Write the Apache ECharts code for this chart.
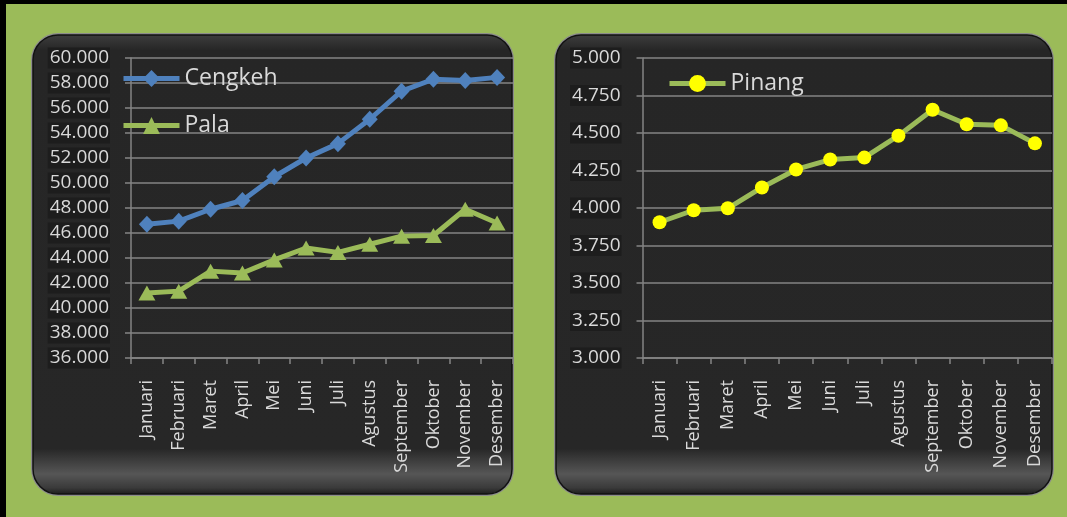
<!DOCTYPE html>
<html><head><meta charset="utf-8">
<script src="https://cdn.jsdelivr.net/npm/echarts@6/dist/echarts.min.js"></script>
<style>html,body{margin:0;padding:0;background:#9BBB59;}#c{width:1067px;height:517px;}</style>
</head><body><div id="c"></div>
<script>
var months = ['Januari','Februari','Maret','April','Mei','Juni','Juli','Agustus','September','Oktober','November','Desember'];
var cengkeh = [46700, 46950, 47900, 48600, 50500, 52000, 53150, 55100, 57350, 58300, 58200, 58450];
var pala = [41200, 41350, 42950, 42800, 43850, 44800, 44450, 45100, 45750, 45800, 47900, 46800];
var pinang = [3905, 3985, 3998, 4137, 4257, 4323, 4336, 4482, 4655, 4558, 4551, 4431];
var leftTicks = {min: 36000, max: 60000, interval: 2000};
var rightTicks = {min: 3000, max: 5000, interval: 250};

var FONT = 'Open Sans';
var TXT = '#d9d9d9';
var GRIDC = '#858585';
function fmt(v){ var s = String(Math.round(v)); return s.slice(0, s.length-3) + '.' + s.slice(-3); }

function panel(x, y, w, h){
  return [
    {type:'rect', z:-20, shape:{x:x-1, y:y-1, width:w+2, height:h+2, r:27}, style:{fill:'#8c8c8c'}},
    {type:'rect', z:-19, shape:{x:x+1, y:y+1, width:w-2, height:h-2, r:25},
     style:{fill:{type:'linear', x:0, y:0, x2:0, y2:1, colorStops:[
       {offset:0, color:'#3e3e3e'},{offset:0.035, color:'#262626'},{offset:0.9, color:'#272727'},
       {offset:0.955, color:'#565656'},{offset:0.985, color:'#3a3a3a'},{offset:1, color:'#1a1a1a'}]},
       stroke:'#111', lineWidth:1.5}}
  ];
}
var graphics = [
  {type:'rect', z:-30, shape:{x:0, y:0, width:1067, height:4}, style:{fill:'#000'}},
  {type:'rect', z:-30, shape:{x:0, y:0, width:6, height:517}, style:{fill:'#000'}}
].concat(panel(32, 34, 481, 461)).concat(panel(555, 34, 498, 461));

function xAxis(gi){
  return {type:'category', gridIndex:gi, data:months, boundaryGap:true,
    axisLine:{lineStyle:{color:GRIDC, width:1.5}},
    axisTick:{show:true, length:6, lineStyle:{color:GRIDC, width:1.5}},
    axisLabel:{rotate:90, margin:22, color:TXT, fontFamily:FONT, fontSize:18, interval:0},
    splitLine:{show:false}};
}
function yAxis(gi, t){
  return {type:'value', gridIndex:gi, min:t.min, max:t.max, interval:t.interval,
    axisLine:{show:true, lineStyle:{color:GRIDC, width:1.5}},
    axisTick:{show:true, length:6, lineStyle:{color:GRIDC, width:1.5}},
    axisLabel:{margin:21, color:TXT, fontFamily:FONT, fontSize:19, formatter:fmt,
      showMinLabel:true, showMaxLabel:true, hideOverlap:false,
      backgroundColor:'#1d1d1d', padding:[1,1,0,2], lineHeight:20},
    splitLine:{show:true, lineStyle:{color:GRIDC, width:1.5}}};
}

var legendText = {color:TXT, fontFamily:FONT, fontSize:23};
var chart = echarts.init(document.getElementById('c'), null, {renderer:'canvas'});
chart.setOption({
  backgroundColor:'#9BBB59',
  animation:false,
  graphic: graphics,
  grid:[
    {left:131, right:1067-513, top:58, bottom:517-358, containLabel:false},
    {left:642.5, right:1067-1052, top:58, bottom:517-358, containLabel:false}
  ],
  xAxis:[xAxis(0), xAxis(1)],
  yAxis:[yAxis(0, leftTicks), yAxis(1, rightTicks)],
  legend:[
    {data:['Cengkeh','Pala'], orient:'vertical', left:121, top:67, padding:0, itemWidth:56, itemHeight:21, itemGap:24,
     lineStyle:{width:5}, textStyle:legendText},
    {data:['Pinang'], orient:'vertical', left:667, top:72, padding:0, itemWidth:56, itemHeight:21,
     lineStyle:{width:5}, textStyle:legendText}
  ],
  series:[
    {name:'Cengkeh', type:'line', xAxisIndex:0, yAxisIndex:0, data:cengkeh, symbol:'diamond', symbolSize:[16,17],
     lineStyle:{color:'#4F81BD', width:5}, itemStyle:{color:'#4F81BD'}, showAllSymbol:true},
    {name:'Pala', type:'line', xAxisIndex:0, yAxisIndex:0, data:pala, symbol:'triangle', symbolSize:[17,15],
     lineStyle:{color:'#9BBB59', width:5}, itemStyle:{color:'#9BBB59'}, showAllSymbol:true},
    {name:'Pinang', type:'line', xAxisIndex:1, yAxisIndex:1, data:pinang, symbol:'circle', symbolSize:14,
     lineStyle:{color:'#9BBB59', width:5}, itemStyle:{color:'#FFFF00'}, showAllSymbol:true}
  ]
});
</script></body></html>
